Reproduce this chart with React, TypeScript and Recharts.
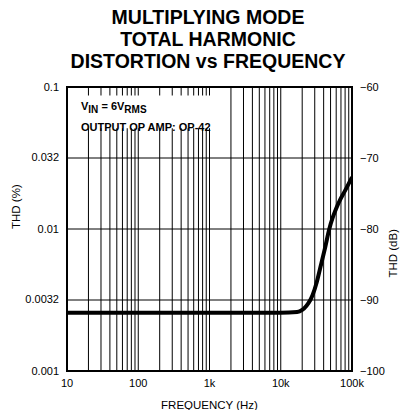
import { LineChart, Line, XAxis, YAxis, CartesianGrid, ReferenceArea } from "recharts"

const FREQ_HZ = [10, 100, 1000, 10000, 17000, 20000, 23000, 26000, 28000, 32000, 36000, 42000, 48000, 54000, 60000, 68000, 80000, 100000]
const THD_DB = [-91.8, -91.8, -91.8, -91.8, -91.7, -91.4, -90.8, -90.0, -89.3, -87.5, -85.4, -82.6, -80.0, -78.3, -77.1, -75.9, -74.6, -72.7]

const X_TICKS = [10, 20, 30, 40, 50, 60, 70, 80, 90, 100, 200, 300, 400, 500, 600, 700, 800, 900, 1000, 2000, 3000, 4000, 5000, 6000, 7000, 8000, 9000, 10000, 20000, 30000, 40000, 50000, 60000, 70000, 80000, 90000, 100000]
const X_LABELS: Record<number, string> = { 10: "10", 100: "100", 1000: "1k", 10000: "10k", 100000: "100k" }
const PCT_TICKS = [0.001, 0.0032, 0.01, 0.032, 0.1]
const DB_TICKS = [-100, -90, -80, -70, -60]

const data = FREQ_HZ.map((f, i) => ({ f, db: THD_DB[i] }))

const FONT = "'Liberation Sans', Arial, Helvetica, sans-serif"
const tickStyle = { fill: "#000", fontSize: 11, fontFamily: FONT }
const labelStyle = { fill: "#000", fontSize: 11.5, fontFamily: FONT }

export default function App() {
  return (
    <div style={{ position: "absolute", left: 0, top: 0, width: 403, height: 410, background: "#fff", fontFamily: FONT }}>
      <div style={{ position: "absolute", left: 0, top: 6, width: 416, textAlign: "center", fontWeight: 700, fontSize: 19.5, lineHeight: "22px", color: "#000" }}>
        MULTIPLYING MODE
        <br />
        TOTAL HARMONIC
        <br />
        DISTORTION vs FREQUENCY
      </div>
      <LineChart width={403} height={410} data={data} margin={{ top: 87, right: 0, bottom: 0, left: 0 }}>
        <CartesianGrid yAxisId="db" stroke="#000" strokeWidth={1} horizontalValues={DB_TICKS} verticalValues={X_TICKS} />
        <ReferenceArea yAxisId="db" x1={10} x2={1150} y1={-61.2} y2={-65.8} fill="#fff" fillOpacity={1} stroke="none" />
        <ReferenceArea yAxisId="db" x1={10} x2={100000} y1={-100} y2={-60} fill="none" stroke="#000" strokeWidth={2} />
        <XAxis
          dataKey="f"
          type="number"
          scale="log"
          domain={[10, 100000]}
          ticks={X_TICKS}
          interval={0}
          tickFormatter={(v: number) => X_LABELS[v] ?? ""}
          tickLine={false}
          axisLine={false}
          tick={tickStyle}
          height={39}
          allowDataOverflow
          label={{ value: "FREQUENCY (Hz)", position: "insideBottom", offset: 1, ...labelStyle }}
        />
        <YAxis
          yAxisId="pct"
          orientation="left"
          type="number"
          scale="log"
          domain={[0.001, 0.1]}
          ticks={PCT_TICKS}
          interval={0}
          tickFormatter={(v: number) => String(v)}
          tickLine={false}
          axisLine={false}
          tick={tickStyle}
          width={67}
          allowDataOverflow
          label={{ value: "THD (%)", angle: -90, position: "insideLeft", offset: 16, ...labelStyle }}
        />
        <YAxis
          yAxisId="db"
          orientation="right"
          type="number"
          domain={[-100, -60]}
          ticks={DB_TICKS}
          interval={0}
          tickFormatter={(v: number) => String(v).replace("-", "\u2212")}
          tickLine={false}
          axisLine={false}
          tick={tickStyle}
          width={51}
          allowDataOverflow
          label={{ value: "THD (dB)", angle: -90, position: "insideRight", offset: 10, ...labelStyle }}
        />
        <Line yAxisId="db" dataKey="db" type="monotone" stroke="#000" strokeWidth={4} dot={false} isAnimationActive={false} />
      </LineChart>
      <div style={{ position: "absolute", left: 81, top: 96, fontSize: 11, fontWeight: 700, lineHeight: "20px", color: "#000" }}>
        <div>
          V<sub style={{ fontSize: 10 }}>IN</sub> = 6V<sub style={{ fontSize: 10 }}>RMS</sub>
        </div>
        <div style={{ marginTop: -3 }}>OUTPUT OP AMP: OP-42</div>
      </div>
    </div>
  )
}
